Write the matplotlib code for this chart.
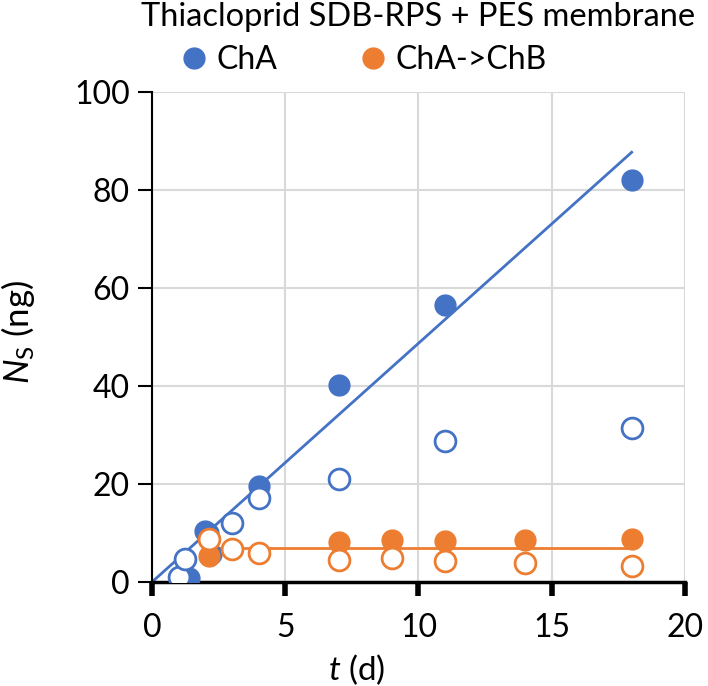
import numpy as np
import matplotlib
matplotlib.use("Agg")
import matplotlib.pyplot as plt

plt.rcParams['font.family'] = ['Lato', 'DejaVu Sans']
plt.rcParams['mathtext.fontset'] = 'custom'
plt.rcParams['mathtext.rm'] = 'Lato'
plt.rcParams['mathtext.it'] = 'Lato:italic'

# ChA (filled) and second set (open)
cha_t = [1.4, 2.0, 2.1, 2.2, 4.0, 7, 11, 18]
cha_y = [0.8, 10.5, 10.0, 5.8, 19.6, 40.3, 56.6, 82.1]
cha_open_t = [1.0, 1.25, 3.0, 4.0, 7, 11, 18]
cha_open_y = [1.0, 4.7, 12.0, 17.2, 21.1, 28.8, 31.5]

# ChA->ChB
chb_t = [2.15, 7, 9, 11, 14, 18]
chb_y = [5.4, 8.1, 8.5, 8.3, 8.6, 8.7]
chb_open_t = [2.15, 3.0, 4.0, 7, 9, 11, 14, 18]
chb_open_y = [8.8, 6.7, 5.9, 4.5, 4.9, 4.2, 3.8, 3.3]

# fitted lines
cha_fit_t = [0, 18]
cha_fit_y = [0, 87.7]
chb_fit_t = [2.15, 18]
chb_fit_y = [6.9, 6.9]

blue = '#4472C4'
orange = '#ED7D31'

fig = plt.figure(figsize=(7.08, 6.86), dpi=100)
ax = fig.add_axes([0.2147, 0.1516, 0.7528, 0.7143])

ax.plot(cha_fit_t, cha_fit_y, color=blue, lw=2, zorder=2)
ax.plot(chb_fit_t, chb_fit_y, color=orange, lw=2, zorder=2)

ms = 15
ax.plot(cha_t, cha_y, 'o', color=blue, ms=ms, label='ChA', zorder=3)
ax.plot(chb_t, chb_y, 'o', color=orange, ms=ms, label='ChA->ChB', zorder=4)
ax.plot(cha_open_t, cha_open_y, 'o', mfc='white', mec=blue, mew=2, ms=ms, zorder=5)
ax.plot(chb_open_t, chb_open_y, 'o', mfc='white', mec=orange, mew=2, ms=ms, zorder=6)

ax.set_xlim(0, 20)
ax.set_ylim(0, 100)
ax.set_xticks([0, 5, 10, 15, 20])
ax.set_yticks([0, 20, 40, 60, 80, 100])
ax.grid(True, color='#D9D9D9', lw=1.5)
ax.set_axisbelow(True)

for s in ['top', 'right']:
    ax.spines[s].set_visible(False)
ax.spines['left'].set_linewidth(1.5)
ax.spines['bottom'].set_linewidth(2.5)
ax.tick_params(axis='x', length=10, width=4, pad=12, labelsize=23)
ax.tick_params(axis='y', length=10, width=1.5, pad=6, labelsize=23)

ax.set_xlabel(r'$t$ (d)', fontsize=24)
ax.set_ylabel(r'$N_{\rm S}$ (ng)', fontsize=25)
ax.xaxis.set_label_coords(0.385, -0.143)
ax.yaxis.set_label_coords(-0.216, 0.51)

fig.text(0.59, 0.975, 'Thiacloprid SDB-RPS + PES membrane', ha='center', va='center', fontsize=23.5)
ax.legend(loc='center', bbox_to_anchor=(0.394, 1.065), ncol=2, frameon=False,
          fontsize=23, markerscale=1.0, handletextpad=0.2, columnspacing=2.5,
          handlelength=1.0, borderaxespad=0, borderpad=0)

fig.savefig('out.png', dpi=100)
